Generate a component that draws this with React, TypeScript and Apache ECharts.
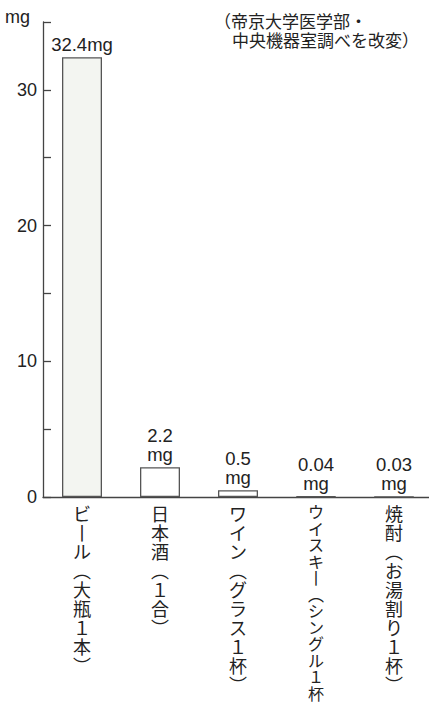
import React, { useEffect, useRef } from "react";
import * as echarts from "echarts";

const categories = [
  "ビール（大瓶1本）",
  "日本酒（1合）",
  "ワイン（グラス1杯）",
  "ウイスキー（シングル1杯）",
  "焼酎（お湯割り1杯）",
];
const values = [32.4, 2.2, 0.5, 0.04, 0.03];
const valueLabels = ["32.4mg", "2.2\nmg", "0.5\nmg", "0.04\nmg", "0.03\nmg"];
const yTickLabels = ["0", "10", "20", "30"];
const unitLabel = "mg";
const sourceLines = ["（帝京大学医学部・", "中央機器室調べを改変）"];

const FONT = "'Liberation Sans', 'Noto Sans CJK JP', sans-serif";
const JFONT = "'Noto Sans CJK JP', sans-serif";

function toVertical(s: string): string {
  const map: Record<string, string> = { "（": "︵", "）": "︶", "ー": "丨", "1": "１" };
  return Array.from(s)
    .map((c) => map[c] ?? c)
    .join("\n");
}

export default function App() {
  const ref = useRef<HTMLDivElement>(null);
  useEffect(() => {
    if (!ref.current) return;
    const chart = echarts.init(ref.current, undefined, { renderer: "svg" });
    chart.setOption({
      animation: false,
      backgroundColor: "#ffffff",
      grid: {
        left: 43,
        top: 22,
        bottom: 205,
        width: 390,
        containLabel: false,
        outerBoundsMode: "none",
      },
      xAxis: {
        type: "category",
        data: categories.map((c, i) => ({
          value: c,
          textStyle: i === 3 ? { lineHeight: 16.5, fontSize: 16 } : { lineHeight: 19 },
        })),
        axisLine: { lineStyle: { color: "#444", width: 1.3 } },
        axisTick: { show: false },
        axisLabel: {
          interval: 0,
          margin: 6,
          color: "#222",
          fontSize: 18,
          fontFamily: JFONT,
          lineHeight: 19,
          verticalAlign: "top",
          hideOverlap: false,
          formatter: (v: string) => toVertical(v),
        },
      },
      yAxis: {
        type: "value",
        min: 0,
        max: 35,
        interval: 5,
        splitLine: { show: false },
        axisLine: { show: true, lineStyle: { color: "#444", width: 1.3 } },
        axisTick: { show: true, inside: true, length: 8, lineStyle: { color: "#444", width: 1.3 } },
        axisLabel: {
          color: "#222",
          fontSize: 18,
          fontFamily: FONT,
          margin: 6,
          formatter: (v: number) => (yTickLabels.includes(String(v)) ? String(v) : ""),
        },
      },
      series: [
        {
          type: "bar",
          barWidth: 40,
          data: values.map((v, i) => ({
            value: v,
            itemStyle: { color: i === 0 ? "#f3f5f1" : "#ffffff" },
          })),
          itemStyle: { borderColor: "#555", borderWidth: 1.3 },
          label: {
            show: true,
            position: "top",
            distance: 3,
            color: "#222",
            fontSize: 18.5,
            lineHeight: 19,
            fontFamily: FONT,
            formatter: (p: any) => valueLabels[p.dataIndex],
          },
        },
      ],
      graphic: [
        {
          type: "text",
          left: 5,
          top: 8,
          style: { text: unitLabel, fontSize: 18, fontFamily: FONT, fill: "#222" },
        },
        {
          type: "text",
          left: 214,
          top: 12,
          style: { text: sourceLines[0], fontSize: 17, fontFamily: JFONT, fill: "#222" },
        },
        {
          type: "text",
          left: 232,
          top: 31,
          style: { text: sourceLines[1], fontSize: 17, fontFamily: JFONT, fill: "#222" },
        },
      ],
    });
    return () => chart.dispose();
  }, []);
  return (
    <div
      ref={ref}
      style={{ position: "fixed", left: 0, top: 0, width: 429, height: 702 }}
    />
  );
}
